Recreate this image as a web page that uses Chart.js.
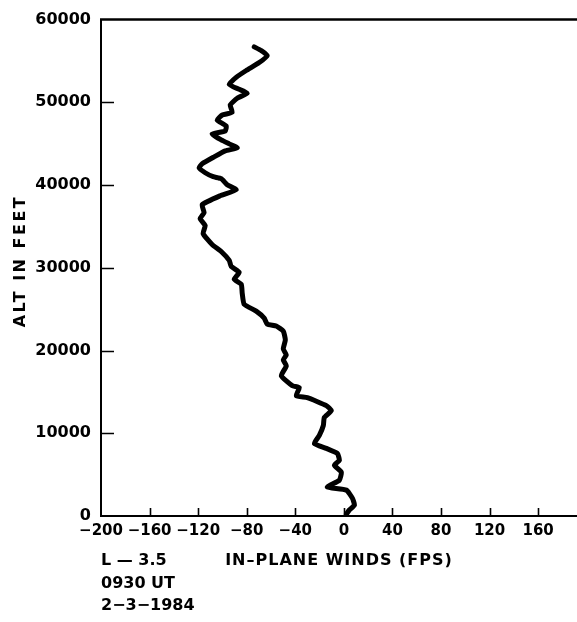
<!DOCTYPE html>
<html>
<head>
<meta charset="utf-8">
<script src="https://cdn.jsdelivr.net/npm/chart.js@4/dist/chart.umd.min.js"></script>
<style>
  html, body { margin: 0; padding: 0; background: #fff; }
  #wrap { width: 577px; height: 622px; position: relative; }
</style>
</head>
<body>
<div id="wrap"><canvas id="c" width="577" height="622"></canvas></div>
<script>
// In-plane wind profile, sounding of 2-3-1984, 0930 UT (L - 3.5)
const windFps = [
  -73.8, -68.0, -63.1, -69.7, -80.4, -88.7, -94.4, -86.2, -79.6, -87.8,
  -93.6, -92.0, -100.2, -104.3, -96.9, -97.7, -108.5, -101.0, -94.4, -87.8,
  -97.7, -106.8, -116.7, -119.2, -114.2, -107.6, -101.0, -96.1, -88.7, -101.9,
  -116.7, -115.1, -118.4, -114.2, -115.9, -108.5, -101.0, -94.4, -92.8, -86.2,
  -90.3, -84.5, -83.7, -82.1, -72.2, -65.6, -63.1, -55.7, -49.9, -48.2,
  -49.9, -47.4, -49.9, -47.4, -51.5, -42.5, -36.7, -39.2, -30.1, -14.4,
  -10.3, -16.1, -16.9, -20.2, -24.3, -14.4, -5.4, -3.7, -7.8, -2.1,
  -3.7, -13.6, 2.1, 7.0, 8.7, 4.5, 2.1
];
const altitudeFt = [
  56700, 56250, 55650, 54810, 53850, 53010, 52170, 51570, 51090, 50500,
  49660, 48800, 48460, 47860, 47140, 46540, 46180, 45460, 44980, 44500,
  44130, 43410, 42570, 42090, 41490, 41010, 40770, 40050, 39430, 38700,
  37620, 36660, 35940, 35100, 34140, 32820, 31970, 30890, 30170, 29450,
  28610, 28010, 26920, 25600, 24760, 23920, 23200, 22960, 22360, 21280,
  20190, 19470, 18870, 18150, 16950, 15750, 15510, 14540, 14300, 13340,
  12740, 11900, 10940, 9740, 8770, 8170, 7570, 6730, 6130, 5290,
  4330, 3490, 3130, 2160, 1320, 720, 240
];
const xTickValues = [-200, -160, -120, -80, -40, 0, 40, 80, 120, 160];
const yTickValues = [0, 10000, 20000, 30000, 40000, 50000, 60000];
const yTitle = 'ALT IN FEET';
const xTitle = 'IN\u2013PLANE WINDS (FPS)';
const noteLines = ['L \u2014 3.5', '0930 UT', '2\u22123\u22121984'];

const FONT = '"DejaVu Sans", "Liberation Sans", sans-serif';

const points = windFps.map((w, i) => ({ x: w, y: altitudeFt[i] }));

// frame top edge and short inward tick marks, under the trace
const frame = {
  id: 'frame',
  beforeDatasetsDraw(chart) {
    const { ctx, chartArea: a, scales: { x, y } } = chart;
    ctx.save();
    ctx.strokeStyle = '#000';
    ctx.lineWidth = 2.5;
    ctx.beginPath();
    ctx.moveTo(a.left - 1, a.top);
    ctx.lineTo(a.right, a.top);
    ctx.stroke();
    ctx.lineWidth = 1.6;
    ctx.beginPath();
    y.ticks.forEach(t => {
      if (t.value <= y.min || t.value >= y.max) return;
      const py = Math.round(y.getPixelForValue(t.value)) + 0.5;
      ctx.moveTo(a.left, py);
      ctx.lineTo(a.left + 13, py);
    });
    x.ticks.forEach(t => {
      if (t.value <= x.min) return;
      const px = Math.round(x.getPixelForValue(t.value)) + 0.5;
      ctx.moveTo(px, a.bottom);
      ctx.lineTo(px, a.bottom - 8);
    });
    ctx.stroke();
    ctx.restore();
  },
  afterDraw(chart) {
    const { ctx, chartArea: a } = chart;
    ctx.save();
    ctx.fillStyle = '#000';
    ctx.font = 'bold 16px ' + FONT;
    ctx.textBaseline = 'middle';
    // rotated altitude title
    ctx.save();
    ctx.letterSpacing = '2.5px';
    ctx.translate(21, 261);
    ctx.rotate(-Math.PI / 2);
    ctx.textAlign = 'center';
    ctx.fillText(yTitle, 0, 0);
    ctx.restore();
    // wind axis title
    ctx.letterSpacing = '1px';
    ctx.textAlign = 'center';
    ctx.fillText(xTitle, 339, 561);
    // sounding notes
    ctx.letterSpacing = '0px';
    ctx.textAlign = 'left';
    noteLines.forEach((s, i) => ctx.fillText(s, a.left, 561 + i * 22.5));
    ctx.restore();
  }
};

new Chart(document.getElementById('c'), {
  type: 'scatter',
  data: {
    datasets: [{
      data: points,
      showLine: true,
      borderColor: '#000',
      borderWidth: 5,
      borderCapStyle: 'round',
      borderJoinStyle: 'round',
      tension: 0.15,
      pointRadius: 0,
      pointHoverRadius: 0,
      fill: false
    }]
  },
  options: {
    responsive: false,
    animation: false,
    events: [],
    layout: { padding: { left: 0, right: 0, top: 17, bottom: 0 } },
    plugins: { legend: { display: false }, tooltip: { enabled: false } },
    scales: {
      x: {
        type: 'linear',
        min: -200,
        max: 192,
        afterFit(s) { s.height = 106; },
        afterBuildTicks(s) { s.ticks = xTickValues.map(v => ({ value: v })); },
        grid: { display: false, drawTicks: false },
        border: { display: true, color: '#000', width: 2 },
        ticks: {
          autoSkip: false,
          maxRotation: 0,
          padding: 6,
          color: '#000',
          font: { family: FONT, size: 15, weight: 'bold' },
          callback: v => (v < 0 ? '\u2212' + Math.abs(v) : String(v))
        }
      },
      y: {
        type: 'linear',
        min: 0,
        max: 60000,
        afterFit(s) { s.width = 101; },
        afterBuildTicks(s) { s.ticks = yTickValues.map(v => ({ value: v })); },
        grid: { display: false, drawTicks: false },
        border: { display: true, color: '#000', width: 2 },
        ticks: {
          padding: 10,
          color: '#000',
          font: { family: FONT, size: 16, weight: 'bold' },
          callback: v => String(v)
        }
      }
    }
  },
  plugins: [frame]
});
</script>
</body>
</html>
